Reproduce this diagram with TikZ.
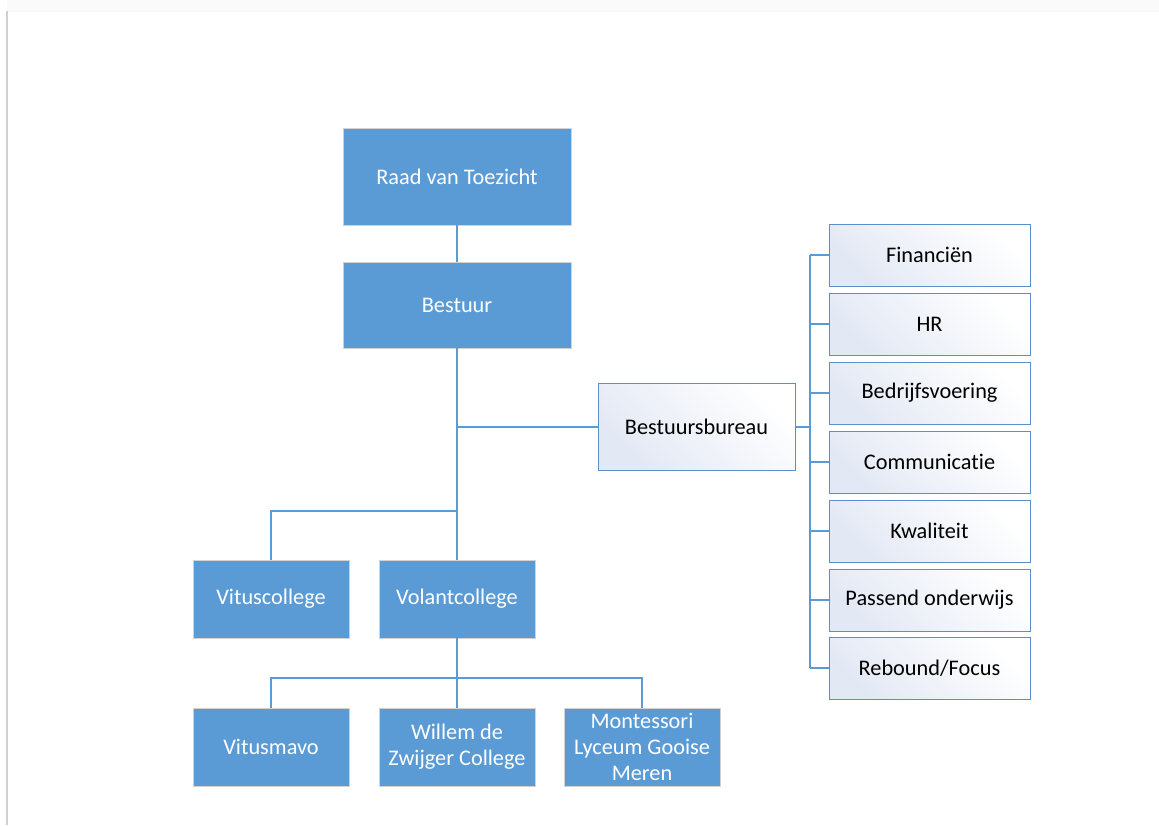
\documentclass[tikz,border=0pt]{standalone}
\usepackage{fontspec}
\setmainfont{Carlito}[Ligatures=NoCommon]
\usetikzlibrary{positioning}
\definecolor{boxblue}{HTML}{5B9BD5}
\definecolor{linkblue}{HTML}{5B9BD5}
\definecolor{edgeblue}{HTML}{5A8FCB}
\definecolor{shadeblue}{HTML}{E2E8F4}
\definecolor{framegray}{HTML}{D0D0D0}
\tikzset{
  bluebox/.style={draw=gray!35, line width=0.8pt, fill=boxblue, text=white,
    align=center, inner sep=2pt,
    font=\fontsize{22.3}{26}\selectfont},
  whitebox/.style={draw=edgeblue, line width=1pt, top color=shadeblue, bottom color=white,
    shading angle=135, text=black, align=center, inner sep=2pt,
    font=\fontsize{22.3}{26}\selectfont},
  link/.style={draw=linkblue, line width=1.3pt},
}
\begin{document}
\begin{tikzpicture}[x=1pt,y=-1pt]
\useasboundingbox (0,0) rectangle (1159,825);
\fill[white] (0,0) rectangle (1159,825);
% frame of the page
\fill[gray!4] (7,0) rectangle (1159,11);
\draw[gray!8, line width=1pt] (7,11.5) -- (1159,11.5);
\draw[framegray, line width=1.5pt] (7,11) -- (7,825);

% blue boxes
\node[bluebox, minimum width=228pt, minimum height=97pt] (rvt) at (457,176.5) {Raad van Toezicht};
\node[bluebox, minimum width=228pt, minimum height=86pt] (best) at (457,305) {Bestuur};
\node[bluebox, minimum width=156pt, minimum height=78pt] (vitus) at (271,599) {Vituscollege};
\node[bluebox, minimum width=156pt, minimum height=78pt] (volant) at (457,599) {Volantcollege};
\node[bluebox, minimum width=156pt, minimum height=78pt] (mavo) at (271,747) {Vitusmavo};
\node[bluebox, minimum width=156pt, minimum height=78pt] (wdz) at (457,747) {Willem de\\Zwijger College};
\node[bluebox, minimum width=156pt, minimum height=78pt] (mlgm) at (642,747) {Montessori\\Lyceum Gooise\\Meren};

% white boxes
\node[whitebox, minimum width=197pt, minimum height=87pt] (bb) at (696.5,426.5) {Bestuursbureau};
\foreach \n/\y/\t in {fin/255/{Financiën}, hr/324/{HR}, bv/393/{Bedrijfsvoering}, com/462/{Communicatie},
  kw/531/{Kwaliteit}, po/600/{Passend onderwijs}, rf/668/{Rebound/Focus}}{
  \node[whitebox, minimum width=201pt, minimum height=62pt] (\n) at (929.5,\y) {\t};
}

% connectors
\coordinate (jbb) at (457,427);
\coordinate (jvit) at (457,511);
\coordinate (jlow) at (457,678);
\coordinate (sp) at (810,427);
\draw[link] (rvt.south) -- (best.north);
\draw[link] (best.south) -- (volant.north);
\draw[link] (jbb) -- (jbb -| bb.west);
\draw[link] (jvit) -| (vitus.north);
\draw[link] (volant.south) -- (wdz.north);
\draw[link] (jlow) -| (mavo.north);
\draw[link] (jlow) -| (mlgm.north);
\draw[link] (sp -| bb.east) -- (sp);
\draw[link] (sp |- fin.west) -- (sp |- rf.west);
\foreach \n in {fin,hr,bv,com,kw,po,rf}{
  \draw[link] (sp |- \n.west) -- (\n.west);
}
\end{tikzpicture}
\end{document}
